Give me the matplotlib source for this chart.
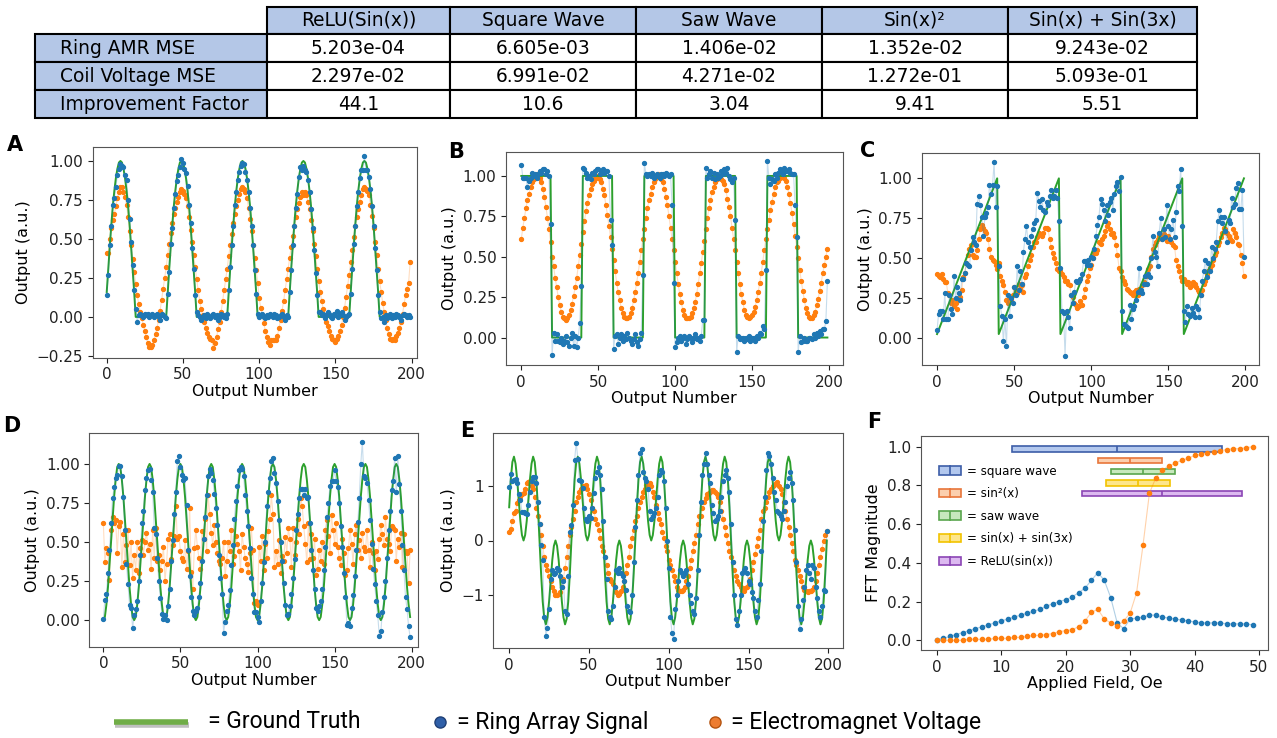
import numpy as np
import matplotlib
matplotlib.use('Agg')
import matplotlib.pyplot as plt
from matplotlib.patches import Rectangle, Patch
from matplotlib.lines import Line2D
import matplotlib.patheffects as pe

plt.rcParams.update({'font.size': 11, 'font.family': 'DejaVu Sans'})

BLUE, ORANGE, GREEN = '#1f77b4', '#ff7f0e', '#2ca02c'

# ---------------- table ----------------
col_names = ['ReLU(Sin(x))', 'Square Wave', 'Saw Wave', 'Sin(x)²', 'Sin(x) + Sin(3x)']
row_names = ['Ring AMR MSE', 'Coil Voltage MSE', 'Improvement Factor']
ring_mse = [5.203e-04, 6.605e-03, 1.406e-02, 1.352e-02, 9.243e-02]
coil_mse = [2.297e-02, 6.991e-02, 4.271e-02, 1.272e-01, 5.093e-01]
improvement = [44.1, 10.6, 3.04, 9.41, 5.51]

# ---------------- A: ReLU(sin) ----------------
relu_truth_period = [0.16, 0.31, 0.45, 0.59, 0.71, 0.81, 0.89, 0.95, 0.99, 1.00,
                     0.99, 0.95, 0.89, 0.81, 0.71, 0.59, 0.45, 0.31, 0.16, 0.00,
                     0.00, 0.00, 0.00, 0.00, 0.00, 0.00, 0.00, 0.00, 0.00, 0.00,
                     0.00, 0.00, 0.00, 0.00, 0.00, 0.00, 0.00, 0.00, 0.00, 0.00]
relu_ring = [
    0.14, 0.27, 0.46, 0.58, 0.72, 0.76, 0.83, 0.91, 0.95, 0.98, 0.97, 0.96, 0.91, 0.88, 0.75, 0.63, 0.48, 0.33, 0.17, 0.05,
    -0.03, 0.01, 0.02, 0.01, 0.00, 0.02, 0.01, 0.02, 0.00, 0.01, 0.02, 0.00, 0.01, 0.02, 0.00, -0.02, 0.02, 0.01, 0.00, -0.01,
    0.15, 0.29, 0.47, 0.57, 0.70, 0.79, 0.87, 0.91, 0.96, 1.01, 0.99, 0.95, 0.92, 0.84, 0.72, 0.60, 0.44, 0.31, 0.14, 0.03,
    0.01, 0.00, -0.02, 0.00, 0.01, -0.01, 0.02, 0.00, -0.01, 0.01, 0.02, 0.00, 0.01, -0.02, 0.00, 0.02, 0.01, 0.00, -0.01, 0.02,
    0.17, 0.32, 0.46, 0.58, 0.72, 0.80, 0.88, 0.93, 0.97, 0.99, 0.98, 0.93, 0.88, 0.80, 0.70, 0.58, 0.46, 0.30, 0.15, 0.02,
    0.00, 0.01, 0.02, 0.00, -0.01, 0.01, 0.00, 0.02, 0.01, 0.00, 0.02, 0.01, -0.01, 0.00, 0.01, 0.02, 0.00, -0.02, 0.01, 0.00,
    0.16, 0.30, 0.46, 0.58, 0.70, 0.79, 0.90, 0.96, 0.94, 0.97, 0.94, 0.93, 0.88, 0.80, 0.69, 0.57, 0.43, 0.28, 0.14, 0.03,
    0.03, 0.01, 0.02, -0.01, 0.01, 0.03, 0.02, 0.00, -0.01, 0.02, 0.01, 0.04, 0.00, 0.02, 0.03, 0.01, -0.02, 0.00, 0.01, 0.02,
    0.15, 0.31, 0.47, 0.58, 0.71, 0.80, 0.89, 0.94, 0.94, 1.03, 0.94, 0.94, 0.90, 0.82, 0.71, 0.58, 0.44, 0.30, 0.14, 0.03,
    -0.01, 0.00, -0.03, 0.01, -0.01, 0.00, 0.02, -0.01, 0.01, 0.00, 0.02, 0.01, 0.00, -0.02, 0.01, 0.02, 0.01, 0.00, 0.01, 0.00]
relu_coil = [
    0.41, 0.41, 0.50, 0.57, 0.62, 0.66, 0.71, 0.76, 0.80, 0.83, 0.83, 0.80, 0.77, 0.72, 0.64, 0.55, 0.46, 0.37, 0.29, 0.21,
    0.14, 0.08, 0.03, -0.01, -0.05, -0.09, -0.13, -0.17, -0.19, -0.19, -0.18, -0.15, -0.11, -0.07, -0.02, 0.04, 0.11, 0.18, 0.25, 0.32,
    0.40, 0.47, 0.54, 0.60, 0.66, 0.70, 0.74, 0.77, 0.80, 0.82, 0.81, 0.79, 0.76, 0.71, 0.64, 0.56, 0.48, 0.40, 0.32, 0.24,
    0.17, 0.10, 0.05, 0.01, -0.03, -0.07, -0.10, -0.13, -0.14, -0.15, -0.20, -0.17, -0.13, -0.08, -0.03, 0.03, 0.10, 0.17, 0.24, 0.31,
    0.39, 0.46, 0.53, 0.60, 0.66, 0.71, 0.75, 0.79, 0.82, 0.83, 0.82, 0.80, 0.76, 0.70, 0.63, 0.55, 0.46, 0.38, 0.30, 0.22,
    0.12, 0.06, 0.01, -0.04, -0.09, -0.13, -0.16, -0.18, -0.15, -0.15, -0.15, -0.15, -0.12, -0.07, -0.02, 0.04, 0.10, 0.17, 0.24, 0.31,
    0.38, 0.45, 0.52, 0.58, 0.64, 0.69, 0.73, 0.77, 0.80, 0.78, 0.80, 0.78, 0.74, 0.69, 0.62, 0.55, 0.47, 0.39, 0.31, 0.23,
    0.16, 0.10, 0.05, 0.01, -0.03, -0.06, -0.09, -0.12, -0.14, -0.15, -0.16, -0.14, -0.12, -0.09, -0.05, 0.00, 0.06, 0.13, 0.20, 0.27,
    0.35, 0.43, 0.51, 0.58, 0.64, 0.69, 0.74, 0.78, 0.82, 0.83, 0.82, 0.81, 0.78, 0.72, 0.65, 0.57, 0.48, 0.40, 0.31, 0.23,
    0.16, 0.09, 0.03, -0.02, -0.07, -0.11, -0.14, -0.15, -0.14, -0.15, -0.12, -0.10, -0.07, -0.03, 0.02, 0.08, 0.14, 0.18, 0.22, 0.35]

# ---------------- B: square wave ----------------
square_truth_period = [1.0, 1.0, 1.0, 1.0, 1.0, 1.0, 1.0, 1.0, 1.0, 1.0,
                       1.0, 1.0, 1.0, 1.0, 1.0, 1.0, 1.0, 1.0, 1.0, 1.0,
                       0.0, 0.0, 0.0, 0.0, 0.0, 0.0, 0.0, 0.0, 0.0, 0.0,
                       0.0, 0.0, 0.0, 0.0, 0.0, 0.0, 0.0, 0.0, 0.0, 0.0]
square_ring = [
    1.07, 0.99, 0.99, 0.99, 0.93, 0.97, 0.99, 1.02, 1.00, 1.01, 0.99, 1.01, 1.03, 1.02, 1.04, 1.04, 1.01, 1.03, 1.00, 0.70,
    -0.11, 0.03, -0.02, 0.02, -0.02, -0.03, 0.00, -0.04, -0.02, 0.01, -0.03, -0.05, 0.00, 0.03, -0.05, 0.01, -0.06, 0.00, 0.09, 0.32,
    1.05, 1.04, 1.02, 0.99, 1.00, 0.98, 1.02, 1.01, 1.03, 1.04, 1.04, 1.01, 1.03, 1.04, 1.02, 1.03, 1.03, 1.00, 0.73, 0.57,
    -0.07, 0.01, 0.02, -0.04, 0.00, 0.02, -0.02, 0.01, -0.01, 0.03, 0.00, -0.02, -0.04, -0.01, 0.02, -0.03, -0.05, -0.01, 0.03, 0.39,
    1.08, 1.01, 1.00, 1.01, 1.00, 1.02, 0.99, 1.00, 1.01, 1.00, 0.99, 1.01, 1.01, 1.00, 1.02, 1.01, 1.00, 1.01, 0.82, 0.34,
    -0.06, -0.03, 0.00, 0.01, -0.02, 0.00, 0.01, -0.04, -0.01, 0.01, 0.00, -0.03, 0.00, 0.02, -0.01, 0.00, -0.02, 0.01, 0.11, 0.11,
    1.05, 0.99, 1.01, 1.03, 0.99, 1.02, 0.98, 1.01, 0.99, 1.00, 1.03, 1.01, 1.04, 1.02, 1.05, 1.00, 0.98, 0.96, 0.99, 0.73,
    -0.09, 0.01, -0.01, 0.00, 0.00, -0.02, 0.00, -0.01, 0.01, -0.02, 0.00, 0.00, -0.02, 0.01, 0.00, 0.03, 0.02, 0.07, 0.05, 0.42,
    1.09, 0.99, 0.95, 0.98, 0.97, 1.01, 0.99, 1.02, 1.04, 1.03, 1.01, 1.05, 1.03, 1.03, 1.04, 1.02, 1.01, 1.01, 0.82, 0.62,
    -0.09, 0.01, -0.03, -0.02, 0.00, -0.02, -0.02, 0.00, 0.00, -0.01, 0.02, 0.00, 0.03, 0.01, 0.04, 0.02, 0.05, 0.05, 0.10, 0.35]
square_coil = [
    0.61, 0.68, 0.74, 0.80, 0.85, 0.89, 0.93, 0.96, 0.98, 1.00, 1.01, 1.00, 0.99, 0.96, 0.92, 0.87, 0.81, 0.74, 0.67, 0.59,
    0.50, 0.44, 0.37, 0.31, 0.25, 0.20, 0.16, 0.13, 0.12, 0.11, 0.12, 0.14, 0.17, 0.21, 0.26, 0.31, 0.37, 0.44, 0.51, 0.58,
    0.65, 0.72, 0.78, 0.83, 0.88, 0.92, 0.95, 0.97, 0.99, 1.00, 0.99, 0.98, 0.96, 0.92, 0.88, 0.82, 0.76, 0.69, 0.62, 0.55,
    0.48, 0.41, 0.34, 0.28, 0.23, 0.18, 0.15, 0.13, 0.12, 0.12, 0.13, 0.15, 0.18, 0.23, 0.28, 0.34, 0.40, 0.47, 0.54, 0.61,
    0.67, 0.74, 0.80, 0.85, 0.89, 0.93, 0.96, 0.98, 1.00, 1.01, 1.00, 0.98, 0.96, 0.92, 0.87, 0.82, 0.75, 0.68, 0.61, 0.54,
    0.47, 0.40, 0.33, 0.27, 0.22, 0.17, 0.14, 0.12, 0.12, 0.12, 0.13, 0.15, 0.18, 0.22, 0.27, 0.33, 0.40, 0.46, 0.53, 0.60,
    0.67, 0.74, 0.80, 0.85, 0.90, 0.93, 0.96, 0.98, 0.99, 0.99, 0.98, 0.97, 0.95, 0.91, 0.86, 0.81, 0.75, 0.68, 0.61, 0.54,
    0.47, 0.40, 0.33, 0.27, 0.22, 0.17, 0.14, 0.13, 0.12, 0.13, 0.14, 0.16, 0.19, 0.23, 0.28, 0.34, 0.40, 0.47, 0.54, 0.61,
    0.67, 0.73, 0.79, 0.84, 0.89, 0.93, 0.96, 0.97, 0.99, 1.00, 1.00, 0.99, 0.97, 0.93, 0.89, 0.83, 0.77, 0.70, 0.63, 0.56,
    0.49, 0.42, 0.35, 0.29, 0.23, 0.18, 0.15, 0.13, 0.12, 0.12, 0.14, 0.16, 0.20, 0.24, 0.29, 0.34, 0.40, 0.45, 0.50, 0.55]

# ---------------- C: saw wave ----------------
saw_truth_period = [0.025, 0.050, 0.075, 0.100, 0.125, 0.150, 0.175, 0.200, 0.225, 0.250,
                    0.275, 0.300, 0.325, 0.350, 0.375, 0.400, 0.425, 0.450, 0.475, 0.500,
                    0.525, 0.550, 0.575, 0.600, 0.625, 0.650, 0.675, 0.700, 0.725, 0.750,
                    0.775, 0.800, 0.825, 0.850, 0.875, 0.900, 0.925, 0.950, 0.975, 1.000]
saw_ring = [
    0.05, 0.15, 0.17, 0.17, 0.12, 0.28, 0.12, 0.12, 0.27, 0.18, 0.15, 0.39, 0.25, 0.32, 0.28, 0.24, 0.37, 0.37, 0.41, 0.47,
    0.46, 0.45, 0.55, 0.63, 0.60, 0.58, 0.84, 0.89, 0.83, 0.76, 0.64, 0.76, 0.78, 0.82, 0.96, 0.90, 0.96, 1.10, 0.82, 0.95,
    0.45, 0.20, 0.14, -0.02, 0.12, -0.05, 0.27, 0.14, 0.25, 0.22, 0.32, 0.27, 0.45, 0.30, 0.42, 0.34, 0.54, 0.62, 0.70, 0.60,
    0.57, 0.64, 0.68, 0.72, 0.74, 0.91, 0.86, 0.82, 0.87, 0.80, 0.79, 0.85, 0.83, 0.89, 0.93, 0.88, 0.89, 0.93, 0.88, 0.73,
    0.44, 0.17, 0.16, -0.11, 0.17, 0.13, 0.06, 0.27, 0.22, 0.29, 0.36, 0.35, 0.36, 0.37, 0.40, 0.48, 0.48, 0.46, 0.49, 0.46,
    0.51, 0.50, 0.56, 0.64, 0.71, 0.76, 0.87, 0.84, 0.80, 0.73, 0.83, 0.77, 0.85, 0.88, 0.80, 0.90, 0.95, 0.98, 0.92, 1.01,
    0.17, 0.09, 0.08, 0.07, 0.06, 0.21, 0.12, 0.18, 0.20, 0.24, 0.29, 0.44, 0.30, 0.28, 0.34, 0.39, 0.34, 0.40, 0.38, 0.50,
    0.64, 0.54, 0.51, 0.45, 0.66, 0.75, 0.62, 0.68, 0.63, 0.83, 0.70, 0.62, 0.68, 0.74, 0.63, 0.79, 0.95, 0.92, 1.06, 0.70,
    0.17, 0.10, 0.20, 0.15, 0.14, 0.19, 0.16, 0.13, 0.20, 0.18, 0.13, 0.27, 0.36, 0.42, 0.49, 0.38, 0.47, 0.42, 0.57, 0.50,
    0.56, 0.60, 0.73, 0.80, 0.76, 0.72, 0.76, 0.67, 0.60, 0.74, 0.72, 0.88, 0.82, 0.84, 0.94, 0.97, 0.81, 0.81, 0.93, 0.51]
saw_coil = [
    0.40, 0.39, 0.38, 0.40, 0.37, 0.35, 0.35, 0.28, 0.27, 0.22, 0.24, 0.20, 0.22, 0.18, 0.24, 0.26, 0.30, 0.38, 0.41, 0.47,
    0.52, 0.56, 0.58, 0.52, 0.51, 0.51, 0.55, 0.62, 0.68, 0.71, 0.69, 0.67, 0.66, 0.62, 0.56, 0.51, 0.49, 0.48, 0.46, 0.43,
    0.47, 0.39, 0.36, 0.33, 0.29, 0.24, 0.22, 0.25, 0.24, 0.27, 0.32, 0.30, 0.28, 0.34, 0.31, 0.33, 0.29, 0.38, 0.40, 0.45,
    0.49, 0.52, 0.57, 0.60, 0.60, 0.63, 0.66, 0.65, 0.64, 0.66, 0.69, 0.69, 0.68, 0.62, 0.57, 0.53, 0.50, 0.47, 0.43, 0.42,
    0.42, 0.40, 0.38, 0.36, 0.36, 0.34, 0.33, 0.27, 0.26, 0.22, 0.21, 0.19, 0.20, 0.23, 0.21, 0.26, 0.31, 0.36, 0.39, 0.44,
    0.46, 0.50, 0.53, 0.53, 0.55, 0.60, 0.59, 0.62, 0.64, 0.67, 0.70, 0.72, 0.68, 0.65, 0.66, 0.63, 0.58, 0.52, 0.44, 0.42,
    0.38, 0.36, 0.34, 0.31, 0.30, 0.29, 0.28, 0.27, 0.29, 0.30, 0.27, 0.31, 0.29, 0.33, 0.35, 0.34, 0.39, 0.43, 0.45, 0.51,
    0.56, 0.58, 0.60, 0.62, 0.64, 0.63, 0.62, 0.65, 0.63, 0.61, 0.64, 0.62, 0.60, 0.58, 0.57, 0.49, 0.45, 0.42, 0.38, 0.36,
    0.37, 0.36, 0.34, 0.35, 0.32, 0.33, 0.35, 0.34, 0.32, 0.30, 0.29, 0.27, 0.30, 0.34, 0.36, 0.40, 0.42, 0.44, 0.46, 0.49,
    0.52, 0.54, 0.58, 0.60, 0.63, 0.66, 0.69, 0.68, 0.66, 0.64, 0.62, 0.61, 0.68, 0.66, 0.63, 0.59, 0.58, 0.52, 0.47, 0.39]

# ---------------- D: sin^2 ----------------
sin2_truth_period = [0.00, 0.02, 0.10, 0.21, 0.35, 0.50, 0.65, 0.79, 0.90, 0.98,
                     1.00, 0.98, 0.90, 0.79, 0.65, 0.50, 0.35, 0.21, 0.10, 0.02]
sin2_ring = [
    0.01, 0.13, 0.17, 0.30, 0.45, 0.62, 0.78, 0.85, 0.91, 0.93, 0.99, 0.99, 0.92, 0.79, 0.58, 0.36, 0.23, 0.10, 0.08, -0.05,
    0.03, 0.07, 0.12, 0.25, 0.42, 0.62, 0.70, 0.83, 0.91, 0.96, 0.97, 0.90, 0.82, 0.59, 0.55, 0.40, 0.25, 0.14, 0.04, 0.01,
    0.03, 0.00, 0.09, 0.20, 0.38, 0.51, 0.68, 0.82, 1.02, 1.05, 0.98, 0.93, 0.90, 0.91, 0.74, 0.45, 0.28, 0.15, 0.06, 0.03,
    0.06, 0.08, 0.15, 0.24, 0.38, 0.52, 0.66, 0.80, 0.92, 0.97, 0.94, 0.90, 0.81, 0.72, 0.61, 0.42, 0.27, 0.17, -0.08, -0.01,
    0.06, 0.10, 0.19, 0.35, 0.48, 0.65, 0.76, 0.86, 0.96, 0.98, 0.97, 0.92, 0.80, 0.70, 0.60, 0.46, 0.27, 0.17, 0.05, 0.05,
    0.02, -0.01, 0.12, 0.24, 0.37, 0.50, 0.73, 0.82, 0.91, 1.02, 1.04, 0.94, 0.88, 0.76, 0.64, 0.50, 0.38, 0.24, 0.10, 0.03,
    0.04, 0.09, 0.17, 0.27, 0.39, 0.58, 0.68, 0.78, 0.84, 0.84, 0.80, 0.84, 0.78, 0.79, 0.62, 0.45, 0.32, 0.20, 0.08, 0.06,
    0.09, 0.12, 0.20, 0.32, 0.47, 0.66, 0.75, 0.86, 0.89, 0.89, 0.96, 0.89, 0.85, 0.75, 0.60, 0.47, 0.30, 0.15, -0.03, -0.02,
    -0.04, 0.08, 0.16, 0.28, 0.45, 0.63, 0.78, 1.00, 1.14, 0.92, 0.91, 0.88, 0.77, 0.64, 0.49, 0.33, 0.23, 0.12, 0.03, -0.10,
    -0.07, 0.05, 0.15, 0.25, 0.40, 0.58, 0.70, 0.83, 0.89, 1.04, 0.82, 1.05, 0.87, 0.70, 0.48, 0.32, 0.15, 0.07, -0.04, -0.11]
sin2_coil = [
    0.62, 0.37, 0.46, 0.43, 0.26, 0.58, 0.66, 0.62, 0.64, 0.43, 0.60, 0.63, 0.34, 0.55, 0.37, 0.48, 0.58, 0.35, 0.50, 0.27,
    0.42, 0.32, 0.50, 0.30, 0.46, 0.51, 0.42, 0.50, 0.56, 0.45, 0.49, 0.33, 0.58, 0.40, 0.59, 0.38, 0.42, 0.32, 0.38, 0.47,
    0.25, 0.36, 0.52, 0.55, 0.39, 0.48, 0.54, 0.73, 0.52, 0.54, 0.44, 0.40, 0.38, 0.51, 0.33, 0.44, 0.72, 0.31, 0.20, 0.46,
    0.58, 0.47, 0.40, 0.33, 0.57, 0.52, 0.65, 0.44, 0.80, 0.68, 0.56, 0.48, 0.61, 0.50, 0.43, 0.38, 0.36, 0.40, 0.50, 0.28,
    0.38, 0.50, 0.44, 0.58, 0.36, 0.41, 0.54, 0.49, 0.44, 0.32, 0.55, 0.47, 0.40, 0.36, 0.31, 0.43, 0.59, 0.45, 0.11, 0.12,
    0.10, 0.47, 0.38, 0.54, 0.32, 0.49, 0.40, 0.57, 0.65, 0.80, 0.68, 0.34, 0.44, 0.36, 0.51, 0.30, 0.41, 0.38, 0.53, 0.43,
    0.59, 0.52, 0.34, 0.59, 0.42, 0.50, 0.65, 0.55, 0.78, 0.73, 0.60, 0.49, 0.37, 0.62, 0.39, 0.55, 0.40, 0.52, 0.29, 0.33,
    0.45, 0.38, 0.50, 0.36, 0.58, 0.64, 0.54, 0.43, 0.67, 0.58, 0.49, 0.62, 0.47, 0.40, 0.35, 0.52, 0.43, 0.29, 0.32, 0.46,
    0.58, 0.49, 0.36, 0.55, 0.61, 0.45, 0.51, 0.40, 0.56, 0.47, 0.44, 0.58, 0.45, 0.34, 0.50, 0.43, 0.32, 0.44, 0.39, 0.52,
    0.61, 0.55, 0.48, 0.66, 0.52, 0.49, 0.44, 0.60, 0.59, 0.58, 0.38, 0.52, 0.47, 0.56, 0.34, 0.55, 0.44, 0.43, 0.24, 0.45]

# ---------------- E: sin(x) + sin(3x) ----------------
sum_truth_period = [0.61, 1.12, 1.44, 1.54, 1.41, 1.12, 0.74, 0.36, 0.10, 0.00,
                    0.10, 0.36, 0.74, 1.12, 1.41, 1.54, 1.44, 1.12, 0.61, 0.00,
                    -0.61, -1.12, -1.44, -1.54, -1.41, -1.12, -0.74, -0.36, -0.10, 0.00,
                    -0.10, -0.36, -0.74, -1.12, -1.41, -1.54, -1.44, -1.12, -0.61, 0.00]
sum_ring = [
    0.98, 1.22, 1.10, 1.12, 1.13, 1.05, 0.85, 0.75, 0.53, 0.52, 0.50, 0.48, 0.65, 0.90, 1.10, 1.17, 1.17, 1.05, 0.70, 0.30,
    -0.08, -0.35, -1.40, -1.75, -1.60, -1.25, -0.70, -0.55, -0.62, -0.60, -0.50, -0.55, -0.65, -0.85, -0.75, -1.30, -1.35, -0.65, 0.15, 0.28,
    0.65, 1.48, 1.80, 1.50, 1.12, 1.10, 0.97, 0.60, 0.40, 0.35, 0.45, 0.42, 0.60, 0.87, 1.15, 1.25, 1.35, 1.20, 0.95, 0.35,
    -0.30, -0.70, -1.30, -1.40, -1.45, -1.20, -0.85, -0.55, -0.60, -0.50, -0.60, -0.65, -0.75, -0.90, -1.20, -1.30, -1.32, -1.00, -0.40, 0.25,
    0.75, 1.20, 1.60, 1.68, 1.25, 1.15, 1.10, 0.95, 0.55, 0.40, 0.45, 0.50, 0.60, 0.80, 1.20, 1.30, 1.25, 1.10, 0.60, 0.00,
    -0.50, -1.40, -1.70, -1.80, -1.25, -1.00, -0.75, -0.55, -0.60, -0.65, -0.60, -0.55, -0.80, -1.00, -1.15, -1.30, -1.35, -1.05, -0.55, 0.10,
    0.70, 1.20, 1.40, 1.60, 1.40, 1.20, 1.05, 0.65, 0.50, 0.35, 0.40, 0.45, 0.55, 0.80, 1.10, 1.20, 1.30, 1.15, 0.90, 0.30,
    -0.40, -1.00, -1.45, -1.55, -1.30, -1.00, -0.60, -0.55, -0.50, -0.60, -0.75, -0.80, -0.95, -1.05, -1.30, -1.40, -1.10, -0.80, -0.20, 0.35,
    0.80, 1.30, 1.60, 1.55, 1.40, 1.15, 0.90, 0.75, 0.55, 0.50, 0.45, 0.40, 0.55, 0.70, 1.00, 1.15, 1.25, 1.05, 0.75, 0.20,
    -0.40, -1.20, -1.62, -1.45, -1.10, -0.85, -0.55, -0.45, -0.60, -0.70, -0.45, -0.50, -0.85, -1.05, -1.30, -1.40, -1.20, -0.90, -0.92, 0.18]
sum_coil = [
    0.15, 0.22, 0.35, 0.50, 0.55, 0.68, 0.75, 0.80, 0.85, 0.88, 0.95, 1.05, 1.08, 1.10, 1.00, 0.95, 0.80, 0.60, 0.45, 0.30,
    0.10, -0.10, -0.30, -0.45, -0.55, -0.65, -0.75, -0.85, -0.92, -1.00, -1.00, -0.98, -0.95, -0.85, -0.70, -0.50, -0.30, -0.10, 0.10, 0.25,
    0.40, 0.55, 0.70, 0.80, 0.90, 0.95, 1.00, 1.00, 1.02, 0.95, 0.85, 0.75, 0.60, 0.55, 0.40, 0.30, 0.20, 0.05, -0.10, -0.20,
    -0.30, -0.45, -0.60, -0.70, -0.75, -0.80, -0.85, -0.95, -1.00, -0.98, -0.92, -0.85, -0.75, -0.60, -0.45, -0.30, -0.10, 0.05, 0.20, 0.35,
    0.45, 0.60, 0.70, 0.80, 0.90, 0.95, 1.02, 1.05, 1.05, 1.00, 0.90, 0.80, 0.65, 0.50, 0.40, 0.30, 0.15, 0.05, -0.10, -0.20,
    -0.35, -0.45, -0.55, -0.65, -0.75, -0.85, -0.90, -0.92, -0.92, -0.90, -0.85, -0.75, -0.65, -0.50, -0.35, -0.20, -0.05, 0.10, 0.30, 0.45,
    0.45, 0.60, 0.70, 0.78, 0.85, 0.88, 0.90, 0.92, 0.92, 0.90, 0.85, 0.80, 0.70, 0.55, 0.40, 0.25, 0.10, -0.05, -0.20, -0.30,
    -0.40, -0.55, -0.65, -0.75, -0.80, -0.85, -0.90, -0.92, -0.88, -0.85, -0.80, -0.70, -0.55, -0.40, -0.25, -0.10, 0.05, 0.20, 0.40, 0.55,
    0.60, 0.70, 0.80, 0.90, 0.95, 1.00, 1.02, 1.05, 1.08, 1.00, 0.95, 0.85, 0.70, 0.55, 0.40, 0.25, 0.10, -0.05, -0.20, -0.35,
    -0.45, -0.55, -0.65, -0.75, -0.85, -0.90, -0.92, -0.95, -0.92, -0.92, -0.90, -0.85, -0.75, -0.60, -0.45, -0.30, -0.15, 0.00, 0.10, 0.18]

# ---------------- F: FFT magnitude vs field ----------------
fft_field = np.arange(50)
fft_ring = [0.00, 0.01, 0.02, 0.03, 0.04, 0.05, 0.06, 0.07, 0.08, 0.09,
            0.10, 0.11, 0.12, 0.13, 0.14, 0.15, 0.16, 0.175, 0.19, 0.20,
            0.21, 0.225, 0.245, 0.27, 0.31, 0.35, 0.31, 0.22, 0.09, 0.06,
            0.11, 0.115, 0.12, 0.13, 0.13, 0.12, 0.115, 0.11, 0.105, 0.10,
            0.095, 0.09, 0.09, 0.09, 0.09, 0.085, 0.085, 0.085, 0.085, 0.08]
fft_coil = [0.00, 0.00, 0.00, 0.00, 0.00, 0.005, 0.005, 0.005, 0.005, 0.01,
            0.01, 0.01, 0.015, 0.015, 0.02, 0.025, 0.025, 0.03, 0.035, 0.045,
            0.05, 0.055, 0.07, 0.10, 0.145, 0.16, 0.11, 0.09, 0.075, 0.10,
            0.14, 0.245, 0.49, 0.76, 0.84, 0.88, 0.90, 0.915, 0.93, 0.94,
            0.955, 0.96, 0.97, 0.975, 0.98, 0.985, 0.99, 0.99, 0.995, 1.00]
box_names = ['square wave', 'sin²(x)', 'saw wave', 'sin(x) + sin(3x)', 'ReLU(sin(x))']
box_low = [11.7, 25.0, 27.0, 26.3, 22.6]
box_med = [28.0, 30.0, 32.0, 31.2, 35.0]
box_high = [44.2, 35.0, 37.0, 36.2, 47.3]
box_face = ['#b3c8ee', '#fbcfae', '#c8e8bd', '#fde68c', '#dcb9f0']
box_edge = ['#3d5ea8', '#e8763a', '#5aa64e', '#f2c300', '#8b45b5']
box_y = [0.988, 0.928, 0.871, 0.812, 0.757]

# ================= drawing =================
W, H = 1277, 738
fig = plt.figure(figsize=(W / 100, H / 100), dpi=100)

over = fig.add_axes([0, 0, 1, 1])
over.set_xlim(0, W)
over.set_ylim(H, 0)
over.axis('off')


def px_axes(left, top, right, bottom):
    return fig.add_axes([left / W, 1 - bottom / H, (right - left) / W, (bottom - top) / H])


# table
TBL_BLUE = '#b4c7e7'
x_edges = [35, 267, 450, 636, 822, 1008, 1197]
y_edges = [7, 34, 62, 90, 118]
tfs = 13.4
for j, name in enumerate(col_names):
    x0, x1 = x_edges[j + 1], x_edges[j + 2]
    over.add_patch(Rectangle((x0, y_edges[0]), x1 - x0, y_edges[1] - y_edges[0],
                             fc=TBL_BLUE, ec='black', lw=1.5))
    over.text((x0 + x1) / 2, (y_edges[0] + y_edges[1]) / 2, name, ha='center', va='center', fontsize=tfs)
cell_text = [[f'{v:.3e}' for v in ring_mse],
             [f'{v:.3e}' for v in coil_mse],
             [f'{v:.3g}' for v in improvement]]
for i, rname in enumerate(row_names):
    y0, y1 = y_edges[i + 1], y_edges[i + 2]
    over.add_patch(Rectangle((x_edges[0], y0), x_edges[1] - x_edges[0], y1 - y0,
                             fc=TBL_BLUE, ec='black', lw=1.5))
    over.text(x_edges[0] + 25, (y0 + y1) / 2, rname, ha='left', va='center', fontsize=tfs)
    for j in range(len(col_names)):
        x0, x1 = x_edges[j + 1], x_edges[j + 2]
        over.add_patch(Rectangle((x0, y0), x1 - x0, y1 - y0, fc='white', ec='black', lw=1.5))
        over.text((x0 + x1) / 2, (y0 + y1) / 2, cell_text[i][j], ha='center', va='center', fontsize=tfs)


def style_axes(ax):
    for s in ax.spines.values():
        s.set_color('#555555')
    ax.tick_params(colors='#222222', labelsize=11)


def draw_signal(ax, truth, ring, coil):
    ax.plot(np.arange(len(coil)), coil, '-', color=ORANGE, lw=0.8, alpha=0.25)
    ax.plot(np.arange(len(coil)), coil, 'o', color=ORANGE, ms=2.8)
    ax.plot(np.arange(len(truth)), truth, '-', color=GREEN, lw=1.4)
    ax.plot(np.arange(len(ring)), ring, '-', color=BLUE, lw=0.8, alpha=0.25)
    ax.plot(np.arange(len(ring)), ring, 'o', color=BLUE, ms=2.8)
    ax.set_xlabel('Output Number', fontsize=11.5, labelpad=1)
    ax.set_ylabel('Output (a.u.)', fontsize=11.5)
    style_axes(ax)


axA = px_axes(92.7, 146.7, 417, 357.7)
draw_signal(axA, np.tile(relu_truth_period, 5), relu_ring, relu_coil)
axA.set_xlim(-9.2, 203.5)

axB = px_axes(506, 151.7, 842.7, 365)
draw_signal(axB, np.tile(square_truth_period, 5), square_ring, square_coil)

axC = px_axes(921.7, 152.7, 1259.3, 365.3)
draw_signal(axC, np.tile(saw_truth_period, 5), saw_ring, saw_coil)

axD = px_axes(89.3, 432.7, 418.3, 646.7)
draw_signal(axD, np.tile(sin2_truth_period, 10), sin2_ring, sin2_coil)
axD.set_xlim(-9.1, 204.3)
axD.set_yticks([0, 0.25, 0.5, 0.75, 1.0])
axD.set_ylim(-0.17, 1.2)

axE = px_axes(493.3, 432.7, 842.7, 648.3)
draw_signal(axE, np.tile(sum_truth_period, 5), sum_ring, sum_coil)
axE.set_yticks([-1, 0, 1])
axE.set_ylim(-1.98, 1.98)

# F
axF = px_axes(921, 435.7, 1268.3, 650)
for k in range(len(box_names)):
    stats = [dict(med=box_med[k], q1=box_low[k], q3=box_high[k],
                  whislo=box_low[k], whishi=box_high[k], fliers=[])]
    axF.bxp(stats, positions=[box_y[k]], widths=0.028, orientation='horizontal',
            patch_artist=True, showcaps=False, showfliers=False, manage_ticks=False,
            boxprops=dict(facecolor=box_face[k], edgecolor=box_edge[k], lw=1.2),
            medianprops=dict(color=box_edge[k], lw=1.2),
            whiskerprops=dict(color=box_edge[k], lw=0))
axF.plot(fft_field, fft_ring, '-', color=BLUE, lw=0.8, alpha=0.35, zorder=3)
axF.plot(fft_field, fft_ring, 'o', color=BLUE, ms=3, zorder=3)
axF.plot(fft_field, fft_coil, '-', color=ORANGE, lw=0.8, alpha=0.35, zorder=3)
axF.plot(fft_field, fft_coil, 'o', color=ORANGE, ms=3, zorder=3)
axF.set_xlim(-2.45, 51.45)
axF.set_ylim(-0.05, 1.057)
axF.set_xlabel('Applied Field, Oe', fontsize=11.5, labelpad=1)
axF.set_ylabel('FFT Magnitude', fontsize=11.5)
style_axes(axF)
handles = [(Patch(facecolor=box_face[k], edgecolor=box_edge[k], lw=1.2),
            Line2D([], [], ls='none', marker='|', ms=7, mew=1.2, color=box_edge[k]))
           for k in range(len(box_names))]
axF.legend(handles, ['= ' + n for n in box_names], loc='upper left', bbox_to_anchor=(0.02, 0.915),
           frameon=False, fontsize=8.6, labelspacing=0.8, handlelength=1.9, handletextpad=0.5)

# panel letters
for letter, (lx, ly) in zip('ABCDEF', [(7, 151), (448, 158), (860, 157), (3, 432), (460, 437), (867, 428)]):
    over.text(lx, ly, letter, fontsize=15, fontweight='bold', ha='left', va='baseline')

# bottom key
LEG_Y = 722
leg_font = ['Roboto', 'DejaVu Sans']
over.plot([114, 188], [LEG_Y, LEG_Y], color='#70ad47', lw=4, solid_capstyle='butt',
          path_effects=[pe.SimpleLineShadow(offset=(1, -2), shadow_color='gray', alpha=0.5), pe.Normal()])
over.text(208, LEG_Y, '= Ground Truth', fontsize=16.5, va='center', family=leg_font)
over.plot([440], [LEG_Y], 'o', ms=8, color='#2f5fa8', mec='#1f3f75')
over.text(457, LEG_Y, '= Ring Array Signal', fontsize=16.5, va='center', family=leg_font)
over.plot([715], [LEG_Y], 'o', ms=8, color='#ed7d31', mec='#b45310')
over.text(731, LEG_Y, '= Electromagnet Voltage', fontsize=16.5, va='center', family=leg_font)

fig.savefig('out.png', dpi=100)
